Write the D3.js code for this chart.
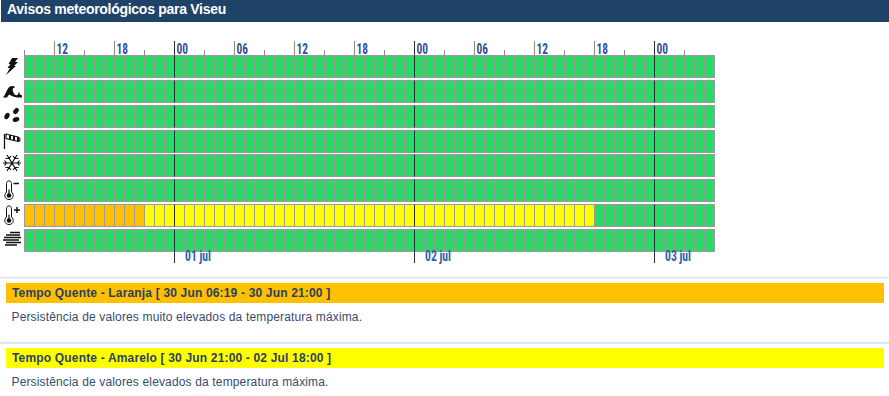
<!DOCTYPE html>
<html><head><meta charset="utf-8">
<script src="https://cdn.jsdelivr.net/npm/d3@7"></script>
<style>
html,body{margin:0;padding:0;background:#fff;overflow:hidden}
svg{display:block}
text{font-family:"Liberation Sans",Arial,sans-serif}
.narrow{font-family:"Liberation Sans Narrow","Roboto Condensed","Liberation Sans",sans-serif;font-weight:700}
</style></head><body>
<svg id="c" width="889" height="396"></svg>
<script>
const title = "Avisos meteorológicos para Viseu";
const hazards = ["trovoada","agitação","precipitação","vento","neve","frio","quente","nevoeiro"];
const startTime = "2000-06-30T09:00Z", endTime = "2000-07-03T06:00Z";
const warningHazard = ["quente","quente"];
const warningLevel = ["laranja","amarelo"];
const warningFrom = ["2000-06-30T09:00Z","2000-06-30T21:00Z"];
const warningTo = ["2000-06-30T21:00Z","2000-07-02T18:00Z"];
const hourLabels = ["12","18","00","06","12","18","00","06","12","18","00"];
const dayTicks = ["2000-07-01T00:00Z","2000-07-02T00:00Z","2000-07-03T00:00Z"];
const dayLabels = ["01 jul","02 jul","03 jul"];
const panelTitles = ["Tempo Quente - Laranja [ 30 Jun 06:19 - 30 Jun 21:00 ]","Tempo Quente - Amarelo [ 30 Jun 21:00 - 02 Jul 18:00 ]"];
const panelTexts = ["Persistência de valores muito elevados da temperatura máxima.","Persistência de valores elevados da temperatura máxima."];
const levelColor = {verde:"#2bd966",amarelo:"#ffff00",laranja:"#ffc000"};

const svg = d3.select("#c");
const t0 = new Date(startTime), t1 = new Date(endTime);
const x = d3.scaleUtc().domain([t0,t1]).range([24.5,714.5]);
const yBand = d3.scaleBand().domain(hazards).range([55.5,251.45]).paddingInner(0.115).paddingOuter(0);
const y = h => Math.floor(yBand(h)) + 0.5;
const rowH = 22;
const hours = d3.utcHour.range(t0,t1);
const px = d => Math.floor(x(d)) + 0.5;

// header
svg.append("rect").attr("x",1).attr("y",0).attr("width",888).attr("height",22).attr("fill","#1f4268");
svg.append("text").attr("x",7).attr("y",14).attr("font-size",14).attr("font-weight",700).attr("letter-spacing",-0.28).attr("fill","#fff").text(title);

// cells
const levelAt = (h,t)=>{
  for(let i=0;i<warningHazard.length;i++)
    if(warningHazard[i]===h && t>=new Date(warningFrom[i]) && t<new Date(warningTo[i])) return warningLevel[i];
  return "verde";
};
const rows = svg.append("g").selectAll("g").data(hazards).join("g");
rows.selectAll("rect").data(h=>hours.map(t=>({h,t}))).join("rect")
  .attr("x",d=>px(d.t)).attr("y",d=>y(d.h))
  .attr("width",d=>px(d3.utcHour.offset(d.t,1))-px(d.t)).attr("height",rowH)
  .attr("fill",d=>levelColor[levelAt(d.h,d.t)])
  .attr("stroke","#9a9a9a").attr("stroke-width",1);

// top axis
const minor = d3.utcHour.range(t0,t1,3);
const axis = d3.axisTop(x).tickValues(minor).tickSize(5).tickFormat("");
const ax = svg.append("g").attr("transform","translate(0,55)").call(axis);
ax.select(".domain").remove();
ax.selectAll(".tick line").attr("stroke","#8a8a8a").attr("stroke-width",1);
ax.selectAll(".tick").attr("transform",d=>`translate(${px(d)},0)`);
const majors = minor.filter(d=>d.getUTCHours()%6===0);
svg.append("g").selectAll("line").data(majors).join("line")
  .attr("x1",px).attr("x2",px)
  .attr("y1",41).attr("y2",55).attr("stroke","#8a8a8a");
svg.append("g").selectAll("text").data(majors.slice(0,hourLabels.length)).join("text")
  .attr("class","narrow").attr("x",d=>x(d)+2).attr("y",54).attr("font-size",14).attr("fill","#34538f")
  .attr("textLength",11.5).attr("lengthAdjust","spacingAndGlyphs")
  .text((d,i)=>hourLabels[i]);

// day lines: drawn over the rows and above/below the grid, not across the gaps
const days = dayTicks.map(d=>new Date(d));
const daySeg = svg.append("g").attr("stroke","#2b2b35").attr("stroke-width",1);
days.forEach(d=>{
  daySeg.append("line").attr("x1",px(d)).attr("x2",px(d)).attr("y1",41).attr("y2",55);
  daySeg.append("line").attr("x1",px(d)).attr("x2",px(d)).attr("y1",y(hazards[hazards.length-1])+rowH).attr("y2",263);
  hazards.forEach(h=>daySeg.append("line").attr("x1",px(d)).attr("x2",px(d)).attr("y1",y(h)).attr("y2",y(h)+rowH));
});
svg.append("g").selectAll("text").data(days).join("text")
  .attr("class","narrow").attr("x",d=>x(d)+10.5).attr("y",261).attr("font-size",14).attr("fill","#2d5fa8")
  .attr("textLength",26).attr("lengthAdjust","spacingAndGlyphs")
  .text((d,i)=>dayLabels[i]);

// icons
const ink="#111";
function thermo(g){
  g.append("path").attr("d","M-5.5-7 C-5.5-10.5-.5-10.5-.5-7 V1.5 C2.5 4 1.5 9-3 9 C-7.5 9-8.5 4-5.5 1.5Z").attr("fill","#fff").attr("stroke",ink).attr("stroke-width",1);
  g.append("circle").attr("cx",-3).attr("cy",5).attr("r",2.3).attr("fill",ink);
  g.append("path").attr("d","M-3 5 V-1").attr("stroke",ink).attr("stroke-width",1.2);
}
const icons = {
  trovoada:g=>g.append("path").attr("d","M0-8.5 L6-8.5 L3-4.5 L6-4.5 L2-.5 L4-.5 L-6 8.5 L-2 1.5 L-4.5 1.5 L-1.5-2.5 L-3.5-2.5Z").attr("fill",ink),
  "agitação":g=>g.append("path").attr("d","M-9 6 C-7 4-6 0-4-3 C-2-6 2-6 3-4 C1-4 0-2 1 0 C2 3 4 5 6 3 L7 0 L8 3 L10 4 L10 6 L5 6 L1 5 L-3 3 L-5 6Z").attr("fill",ink),
  "precipitação":g=>{
    [[4,-5.5,-50],[-5,-0.5,-60],[4,3,-20]].forEach(([a,b,r])=>g.append("ellipse").attr("cx",a).attr("cy",b).attr("rx",3.4).attr("ry",2.3).attr("transform",`rotate(${r} ${a} ${b})`).attr("fill",ink));
  },
  vento:g=>{
    g.append("path").attr("d","M-7.5-7.5 V7.5").attr("stroke",ink).attr("stroke-width",1.3).attr("fill","none");
    g.append("path").attr("d","M-6-7.5 L6-4.5 C9-3.5 8.5 0 6 0 L-6-3Z").attr("fill","#fff").attr("stroke",ink).attr("stroke-width",1.1);
    g.append("path").attr("d","M-2-6.5 L-2-2 M2-5.5 L2-1 M6-4.5 L6-.5").attr("stroke",ink).attr("stroke-width",2);
  },
  neve:g=>{
    g.append("path").attr("transform","translate(0,-2.5)").attr("d","M-9 0 H9 M-5-8 L5 8 M5-8 L-5 8 M-7.5-2.5 L-5.5 0 L-7.5 2.5 M7.5-2.5 L5.5 0 L7.5 2.5 M-1-7 L-3-4.5 L-6.5-4.5 M1-7 L3-4.5 L6.5-4.5 M-1 7 L-3 4.5 L-6.5 4.5 M1 7 L3 4.5 L6.5 4.5").attr("stroke",ink).attr("stroke-width",1.2).attr("fill","none");
  },
  frio:g=>{thermo(g);g.append("path").attr("d","M1.5-7 H7").attr("stroke",ink).attr("stroke-width",1.5);},
  quente:g=>{thermo(g);g.append("path").attr("d","M2-5.5 H8 M5-8.5 V-2.5").attr("stroke",ink).attr("stroke-width",1.5);},
  nevoeiro:g=>g.append("path").attr("d","M-2-8 H8 M-6-5.5 H8 M-8-3 H9 M-9-.5 H7 M-6 2 H9 M-7 4.5 H5").attr("stroke",ink).attr("stroke-width",1.3)
};
hazards.forEach(h=>{
  const g=svg.append("g").attr("transform",`translate(12,${y(h)+rowH/2})`);
  icons[h](g);
});

// panels
const panelY = d3.scaleOrdinal().domain(panelTitles).range([283,348]);
panelTitles.forEach((pt,i)=>{
  const py=panelY(pt);
  svg.append("rect").attr("x",0).attr("y",py-6).attr("width",889).attr("height",i?1.8:1.4).attr("fill","#dbe5ee");
  svg.append("rect").attr("x",6).attr("y",py).attr("width",878).attr("height",20).attr("fill",levelColor[warningLevel[i]]);
  svg.append("text").attr("x",12).attr("y",py+14).attr("font-size",12).attr("font-weight",700).attr("fill","#2b3f63").attr("letter-spacing",0.17).text(pt);
  svg.append("text").attr("x",11.5).attr("y",py+38).attr("font-size",12).attr("letter-spacing",0.15).attr("fill","#3a4a70").text(panelTexts[i]);
});
</script>
</body></html>
